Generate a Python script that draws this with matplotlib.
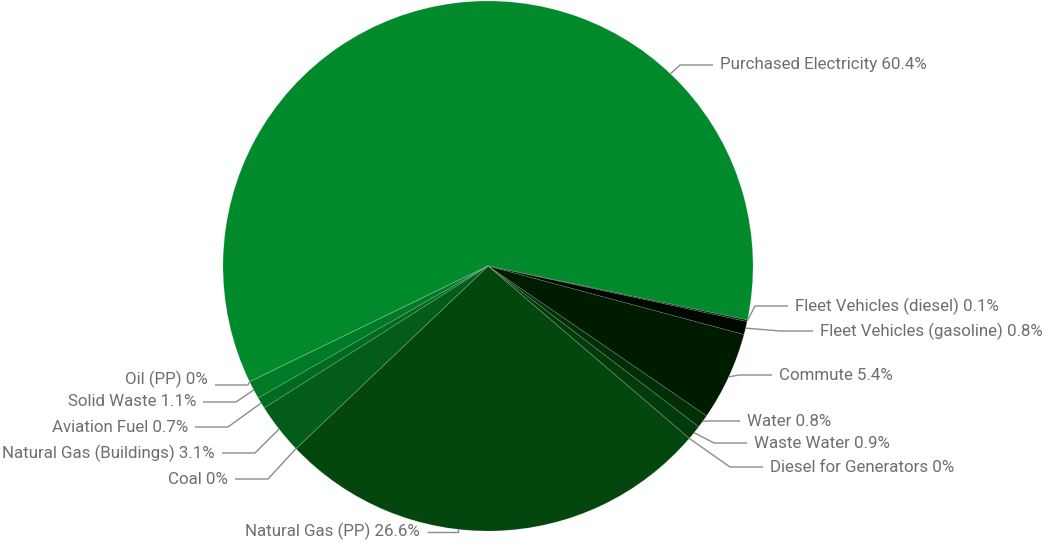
import numpy as np
import matplotlib
matplotlib.use("Agg")
import matplotlib.pyplot as plt

# ---- data ----
categories = ["Purchased Electricity", "Fleet Vehicles (diesel)", "Fleet Vehicles (gasoline)",
              "Commute", "Water", "Waste Water", "Diesel for Generators", "Natural Gas (PP)",
              "Coal", "Natural Gas (Buildings)", "Aviation Fuel", "Solid Waste", "Oil (PP)"]
values = [60.4, 0.1, 0.8, 5.4, 0.8, 0.9, 0, 26.6, 0, 3.1, 0.7, 1.1, 0]
colors = ["#008a2b", "#021602", "#000700", "#001c00", "#002f06", "#013b0b", "#02420d",
          "#03470f", "#044f12", "#045c1a", "#006a21", "#007a26", "#00872a"]

# ---- layout (pixel coordinates of the label connector ends) ----
W, H = 1048, 548
label_ends = [(713, 65), (788, 306), (813, 331), (772, 375), (740, 421), (747, 443), (763, 467),
              (427, 532), (235, 479), (222, 453), (195, 427), (203, 402), (215, 385)]
label_text_dy = [0, 0, 0, 0, 0, 0, 0, -1, 0, 0, 0, 0, -6]
touch_override = {0: 46.5, 7: -96.5}
sides = [1, 1, 1, 1, 1, 1, 1, -1, -1, -1, -1, -1, -1]

cx, cy, R = 488, 266, 265

plt.rcParams['font.family'] = ['Roboto', 'DejaVu Sans']

fig = plt.figure(figsize=(W / 100, H / 100), dpi=100)
ax = fig.add_axes([0, 0, 1, 1])


def P(x, y):
    return (x, H - y)


wedges, _ = ax.pie(values, colors=colors, startangle=205.9, counterclock=False,
                   center=P(cx, cy), radius=R, frame=True,
                   wedgeprops=dict(edgecolor=(1, 1, 1, 0.12), linewidth=0.7))
ax.set_xlim(0, W)
ax.set_ylim(0, H)
ax.set_aspect('equal')
ax.axis('off')

for i, w in enumerate(wedges):
    ang = touch_override.get(i, (w.theta1 + w.theta2) / 2.0)
    a = np.deg2rad(ang)
    tx, ty = cx + R * np.cos(a), cy - R * np.sin(a)
    ex, ey = label_ends[i]
    s = sides[i]
    bx = ex - s * 33
    if s > 0:
        bx = max(bx, tx)
    else:
        bx = min(bx, tx)
    xs = [tx, bx, ex]
    ys = [ty, ey, ey]
    ax.plot(xs, [H - y for y in ys], color='#8c8c8c', lw=1.0, solid_capstyle='butt')
    txt = f"{categories[i]} {values[i]:g}%"
    ax.text(ex + s * 7, H - (ey + label_text_dy[i]), txt, ha='left' if s > 0 else 'right',
            va='center', fontsize=12.2, color='#6e6e6e')

fig.savefig("out.png", dpi=100)
